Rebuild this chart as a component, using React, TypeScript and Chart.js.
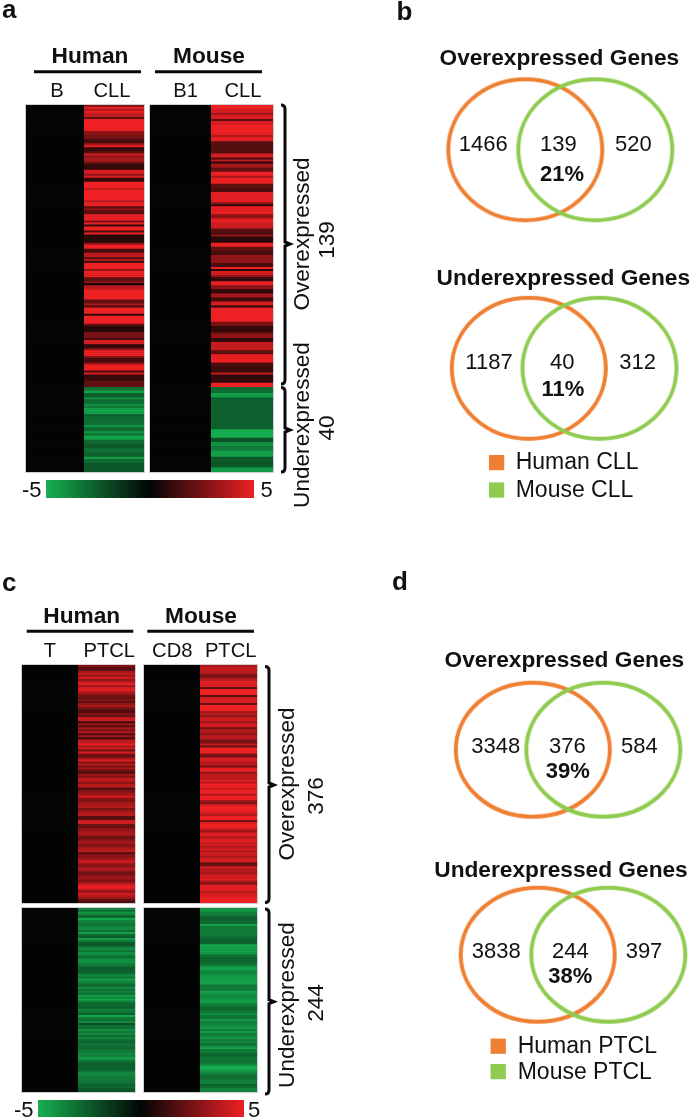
import React, { useEffect, useRef } from "react";
import { Chart, registerables } from "chart.js";

Chart.register(...registerables);

// ---------- DATA: heat values as [gene rows, log2 ratio] runs (panel a) ----------
const humanCLLOver: number[][] = [
  [1,2.5],[1,5],[1,3.5],[1,5],[2,4],[1,2],[6,5],[2,3],[2,2.5],[2,1.5],[1,3.5],[1,5],[2,1.2],[1,2],[1,4.5],[1,3],[2,3.5],[1,2.5],[3,1],[2,4.5],[1,3],[1,4.5],[2,1],[3,5],[1,4],[5,5],
  [1,4],[2,5],[1,2],[1,3],[2,2],[3,5],[1,2.5],[1,5],[1,1],[2,5],[1,1.5],[1,5],[4,0.8],[1,3],[2,5],[2,1.5],[2,4],[1,2],[1,3.5],[1,1.5],[3,5],[1,3],[3,5],[2,2],[1,3],[1,0.3],[2,4],[4,5],
  [1,5],[2,2],[1,3.5],[1,1.5],[3,5],[1,0.8],[4,5],[1,2],[3,0.8],[3,2.5],[1,1.5],[2,4.5],[2,1],[1,3],[3,5],[1,2.5],[2,1.5],[1,3],[3,5],[1,1.5],[1,4.5],[3,1.2],[3,2],
];
const mouseCLLOver: number[][] = [
  [2,5],[2,4.5],[1,3.5],[2,4.5],[1,2],[2,4.5],[5,5],[1,3.8],[2,5],[6,1.8],[2,4.5],[1,1.5],[1,4],[1,0.8],[2,3.5],[2,2],[2,5],[1,3.5],[3,5],[2,2],[2,1.6],[5,4.8],
  [1,3],[1,1],[4,5],[2,3],[2,4.8],[3,4.2],[2,1.8],[1,1.5],[1,3],[3,0.8],[2,5],[2,2],[2,1.5],[4,3],[2,1.5],[1,5],[1,0.8],[2,4.5],[1,3],[2,1],[2,5],[2,3],[2,1],[2,3.5],[1,1.2],
  [1,1.5],[2,4.5],[1,0.8],[7,5],[2,2.5],[3,1],[1,2.2],[2,3],[2,1],[4,4.2],[2,2],[4,5],[2,1.5],[3,1.2],[1,4],[4,1],[2,5],
];
const humanCLLUnder: number[][] = [
  [1,-2.5],[1,-3],[1,-4.5],[2,-2.2],[1,-3.5],[2,-2.5],[1,-3.8],[1,-3],[1,-4.2],[2,-4.5],[1,-2],[4,-2.6],[1,-4],[2,-2.6],[1,-4],[1,-2.5],[2,-4.5],[2,-2.4],[2,-2],[2,-2.6],[2,-2.2],[1,-4.2],[2,-2.5],[4,-1.9],
];
const mouseCLLUnder: number[][] = [
  [3,-2.5],[2,-4.4],[15,-2.2],[4,-4.8],[2,-1.8],[2,-3.8],[2,-3],[3,-4.4],[5,-1.9],[2,-4.2],
];

// ---------- DATA: panel c, one value per bin of neighbouring genes ----------
const humanPTCLOver = [
  2.8,1.8,1.8,3.4,4,3.2,4.4,3,4,4.8,3.4,4.4,4.8,3.8,3.2,2.2,2.2,2.8,2,3,3.6,2.6,1.8,1.8,2.8,2.2,4.4,4.4,1.4,3.4,2,3.4,2.8,3.8,1.8,3.4,1.6,4,4,4.8,3.4,4.4,2.2,4.6,2.6,2,3.4,4.6,2.6,3.8,2.6,3.4,2.2,1.6,3.4,2.6,4,4,2.8,
  3.8,3.8,1.6,2.6,3,3.4,4.4,2.8,2.6,3.4,3.6,3.8,2.6,3.2,3.8,3.8,1.8,1.8,4.4,4.4,2.2,2.2,3,3.4,3.8,3.4,2.2,2.6,3.4,3.6,2.6,3.4,
  4,4,1.8,3,3,3.4,4.4,3.4,2.6,3.4,3.8,2.8,2.2,2.8,3.4,3,2.6,3.8,4.6,5,3.8,3,4.4,3.8,3.4,2.2,1.6,
];
const mousePTCLOver = [
  3.5,4,4,4,3.5,2.2,3,4,4.6,4.6,4.6,2,5,5,5,1.8,4.4,4.4,4.4,2.2,5,5,5,3.5,4,3,4.5,4.5,3.4,4.6,4.6,2.4,3.8,3.8,3,4,4,2.4,2.6,4,2,5,5,5,2.6,2.4,4.5,4.5,3.8,3.8,2.4,4.8,4.8,3,4,4,3.8,4.6,4,
  5,5,4.2,5,5,3.8,5,5,3.4,2.6,4.2,5,5,5,4.4,3.8,5,5,2.4,4.6,5,5,4.2,3.4,4.5,5,3.8,4.5,5,4.2,4.6,3.8,
  4.6,3.8,4.6,4.2,3.8,4.6,4.2,2,2.2,4.5,3.6,3.8,3.4,4.6,4.2,4.8,3.4,2.6,4.6,4.8,4.8,3.8,4.4,4.5,5,5,5,
];
const humanPTCLUnder = [
  -3.5,-2.5,-4,-3,-2,-4.6,-3.4,-3,-2.8,-3.6,-3.6,-2.6,-4.4,-2.4,-2.2,-4.2,-3,-2,-2,-3.2,-3.8,-2.8,-4.2,-3.4,-2.6,-3.8,-4,-3.6,-3,-2,-2.2,-2,-2.6,-3.6,-2.8,-4.2,-3.6,-3,-2.2,-3.6,-2.6,-3.2,-2.6,-4.4,-3.4,-4.6,-3,-2.4,-2.4,-2.2,-3.2,-2.8,-2.2,-4.6,-3,-2.6,-3.6,-1.8,
  -2.6,-2.6,-3.8,-3,-3.4,-2.6,-3.6,-2.6,-2.4,-3,-2.8,-2.4,-3,-3.4,-3.6,-3.4,-4.2,-3,-2.4,-2.2,-2.2,-2.2,-2.4,-3.4,-3.6,-3.2,-3,-2.8,-2.8,-2.2,-2.4,-2,-1.8,
];
const mousePTCLUnder = [
  -4,-4,-3.2,-3.2,-2.2,-2.2,-2.4,-2.4,-4.4,-3,-3,-3.2,-3,-3,-2.6,-2.2,-2.2,-2.2,-4.8,-4.6,-4.4,-4.4,-4.2,-3,-2.6,-2.4,-2.4,-2.6,-3,-4.4,-4.4,-3.4,-3.4,-4,-4.2,-4.2,-4.4,-4.4,-2.8,-3,-3,-4.2,-4,-3.4,-3.6,-4,-4.4,-3.2,-3,-2.4,-2.4,-3,-3.6,-2.8,-3,-4,-3.2,-3.4,
  -3.6,-4,-3.2,-4,-3,-3.6,-4.2,-3.2,-3.6,-2.8,-3.6,-4.6,-3,-3,-2.4,-2.4,-3,-2.8,-2.8,-3.4,-4.6,-4.8,-4.2,-3.6,-3,-2.4,-2.6,-3,-3.4,-2.2,-2.4,-3.4,-3.4,
];

// ---------- DATA: Venn counts and labels ----------
const vennTitles = ["Overexpressed Genes", "Underexpressed Genes", "Overexpressed Genes", "Underexpressed Genes"];
const humanOnly = [1466, 1187, 3348, 3838];
const shared = [139, 40, 376, 244];
const mouseOnly = [520, 312, 584, 397];
const sharedPercent = ["21%", "11%", "39%", "38%"];
const legendHuman = ["Human CLL", "Human PTCL"];
const legendMouse = ["Mouse CLL", "Mouse PTCL"];
const colorbarTicks = ["-5", "5"];

// ---------- LAYOUT (page pixels) ----------
const runs = (r: number[][]) => r.flatMap(([n, v]) => Array.from({ length: n }, () => v));

const heatBlocks = [
  { values: runs(humanCLLOver), left: 26, right: 144, split: 84, top: 105, bottom: 387, clip: "inset(-1px -1px 0 -1px)" },
  { values: runs(mouseCLLOver), left: 150, right: 273, split: 211, top: 105, bottom: 387, clip: "inset(-1px -1px 0 -1px)" },
  { values: runs(humanCLLUnder), left: 26, right: 144, split: 84, top: 387, bottom: 472, clip: "inset(0 -1px -1px -1px)" },
  { values: runs(mouseCLLUnder), left: 150, right: 273, split: 211, top: 387, bottom: 472, clip: "inset(0 -1px -1px -1px)" },
  { values: humanPTCLOver, left: 22, right: 135, split: 78, top: 665, bottom: 903, clip: "none" },
  { values: mousePTCLOver, left: 144, right: 257, split: 200, top: 665, bottom: 903, clip: "none" },
  { values: humanPTCLUnder, left: 22, right: 135, split: 78, top: 908, bottom: 1092, clip: "none" },
  { values: mousePTCLUnder, left: 144, right: 257, split: 200, top: 908, bottom: 1092, clip: "none" },
];
const colorBars = [
  { left: 46, right: 254, top: 480, bottom: 498 },
  { left: 38, right: 244, top: 1100, bottom: 1117 },
];
const vennLayout = [
  { hx: 525.3, mx: 595.3, y: 149.8, ry: 70.5, titleX: 559.3, titleY: 65, hc: 483.3, sc: 558.3, mc: 633.3, cy: 151, px: 562, py: 181 },
  { hx: 528.8, mx: 599.5, y: 368.3, ry: 70.5, titleX: 563.3, titleY: 285, hc: 489, sc: 562.3, mc: 637.7, cy: 369.3, px: 563, py: 396 },
  { hx: 532.8, mx: 603.3, y: 749.7, ry: 67, titleX: 564.3, titleY: 667.3, hc: 495.7, sc: 567.3, mc: 639.3, cy: 752.7, px: 567.7, py: 778.3 },
  { hx: 537.7, mx: 608.3, y: 954.7, ry: 67, titleX: 561, titleY: 876.7, hc: 496.3, sc: 570.3, mc: 644, cy: 957.7, px: 570.3, py: 983.3 },
];
const legendLayout = [
  { sx: 496.6, tx: 515.7, y1: 462.6, y2: 490, b1: 469.3, b2: 496.7 },
  { sx: 498.2, tx: 517.7, y1: 1046.2, y2: 1071.6, b1: 1053.3, b2: 1079 },
];
const INK = "#111";
const FONT = '"Liberation Sans", Arial, sans-serif';
const BOLD_H = `bold 22.7px ${FONT}`;
const REG_S = `20.2px ${FONT}`;
const REG_N = `22px ${FONT}`;
const BOLD_N = `bold 22px ${FONT}`;
const ROT = `22.6px ${FONT}`;
const LETTER = `bold 26px ${FONT}`;
const LEG = `23px ${FONT}`;

type Txt = { t: string; x: number; y: number; f: string; a?: CanvasTextAlign; rot?: boolean };
const texts: Txt[] = [
  { t: "a", x: 2, y: 18, f: LETTER, a: "left" },
  { t: "b", x: 396.5, y: 20, f: LETTER, a: "left" },
  { t: "c", x: 2, y: 591, f: LETTER, a: "left" },
  { t: "d", x: 392, y: 590, f: LETTER, a: "left" },
  { t: "Human", x: 90, y: 63, f: BOLD_H },
  { t: "Mouse", x: 209, y: 63, f: BOLD_H },
  { t: "B", x: 57, y: 96.7, f: REG_S },
  { t: "CLL", x: 112, y: 96.7, f: REG_S },
  { t: "B1", x: 185.7, y: 96.7, f: REG_S },
  { t: "CLL", x: 243, y: 96.7, f: REG_S },
  { t: "Human", x: 81.7, y: 622.7, f: BOLD_H },
  { t: "Mouse", x: 201, y: 622.7, f: BOLD_H },
  { t: "T", x: 50, y: 657, f: REG_S },
  { t: "PTCL", x: 109.3, y: 657, f: REG_S },
  { t: "CD8", x: 172.3, y: 657, f: REG_S },
  { t: "PTCL", x: 230.7, y: 657, f: REG_S },
  { t: "Overexpressed", x: 303, y: 234, f: ROT, rot: true },
  { t: String(shared[0]), x: 328, y: 240, f: ROT, rot: true },
  { t: "Underexpressed", x: 303, y: 425, f: ROT, rot: true },
  { t: String(shared[1]), x: 328, y: 428, f: ROT, rot: true },
  { t: "Overexpressed", x: 288, y: 784, f: ROT, rot: true },
  { t: String(shared[2]), x: 316.7, y: 796, f: ROT, rot: true },
  { t: "Underexpressed", x: 288, y: 1005, f: ROT, rot: true },
  { t: String(shared[3]), x: 316.7, y: 1003, f: ROT, rot: true },
  { t: colorbarTicks[0], x: 41.5, y: 497, f: REG_N, a: "right" },
  { t: colorbarTicks[1], x: 266.7, y: 497, f: REG_N },
  { t: colorbarTicks[0], x: 33.5, y: 1116.5, f: REG_N, a: "right" },
  { t: colorbarTicks[1], x: 254, y: 1116.5, f: REG_N },
  ...vennLayout.flatMap((v, i): Txt[] => [
    { t: vennTitles[i], x: v.titleX, y: v.titleY, f: BOLD_H },
    { t: String(humanOnly[i]), x: v.hc, y: v.cy, f: REG_N },
    { t: String(shared[i]), x: v.sc, y: v.cy, f: REG_N },
    { t: String(mouseOnly[i]), x: v.mc, y: v.cy, f: REG_N },
    { t: sharedPercent[i], x: v.px, y: v.py, f: BOLD_N },
  ]),
  ...legendLayout.flatMap((l, i): Txt[] => [
    { t: legendHuman[i], x: l.tx, y: l.b1, f: LEG, a: "left" },
    { t: legendMouse[i], x: l.tx, y: l.b2, f: LEG, a: "left" },
  ]),
];

const rules = [
  [34, 141, 71.7], [155, 262, 71.7],
  [26.7, 133.3, 631.3], [147.3, 254, 631.3],
];
// hook x, spine x, tick tip x, top, middle, bottom
const braces = [
  [281, 285, 290, 105, 244, 384],
  [281, 285, 290, 387.5, 430, 472],
  [265, 269, 274, 666.5, 785, 902.5],
  [265, 269, 274, 909, 1001.7, 1094],
];

const GREEN_END = [22, 176, 80];
const RED_END = [237, 32, 36];
const ZERO = [3, 5, 5];
const ORANGE = "#EF7F32";
const LIME = "#8FCB50";

function heatColor(v: number) {
  const t = Math.min(1, Math.abs(v) / 5);
  const end = v < 0 ? GREEN_END : RED_END;
  const k = v < 0 ? Math.pow(t, 0.75) : t;
  const c = ZERO.map((z, i) => Math.round(z + (end[i] - z) * k));
  return `rgb(${c[0]},${c[1]},${c[2]})`;
}

function ellipseImage(rx: number, ry: number, color: string) {
  const lw = 4;
  const c = document.createElement("canvas");
  c.width = Math.ceil(2 * (rx + lw));
  c.height = Math.ceil(2 * (ry + lw));
  const g = c.getContext("2d")!;
  g.strokeStyle = color;
  g.lineWidth = lw;
  g.beginPath();
  g.ellipse(c.width / 2, c.height / 2, rx, ry, 0, 0, Math.PI * 2);
  g.stroke();
  return c;
}

const annotate = {
  id: "annotate",
  afterDatasetsDraw(chart: any) {
    const { ctx } = chart;
    const X = (v: number) => chart.scales.x.getPixelForValue(v);
    const Y = (v: number) => chart.scales.y.getPixelForValue(v);
    ctx.save();
    ctx.strokeStyle = "#0a0a0a";
    ctx.lineWidth = 3;
    rules.forEach(([a, b, y]) => {
      ctx.beginPath();
      ctx.moveTo(X(a), Y(y));
      ctx.lineTo(X(b), Y(y));
      ctx.stroke();
    });
    ctx.lineWidth = 3;
    braces.forEach(([h, s, tip, top, mid, bot]) => {
      ctx.beginPath();
      ctx.moveTo(X(h), Y(top));
      ctx.quadraticCurveTo(X(s), Y(top), X(s), Y(top + 4));
      ctx.lineTo(X(s), Y(mid - 2));
      ctx.lineTo(X(tip), Y(mid));
      ctx.lineTo(X(s), Y(mid + 2));
      ctx.lineTo(X(s), Y(bot - 4));
      ctx.quadraticCurveTo(X(s), Y(bot), X(h), Y(bot));
      ctx.stroke();
    });
    ctx.fillStyle = INK;
    texts.forEach((d) => {
      ctx.font = d.f;
      ctx.textAlign = d.a ?? "center";
      if (d.rot) {
        ctx.save();
        ctx.translate(X(d.x), Y(d.y));
        ctx.rotate(-Math.PI / 2);
        ctx.textBaseline = "middle";
        ctx.fillText(d.t, 0, 0);
        ctx.restore();
      } else {
        ctx.textBaseline = "alphabetic";
        ctx.fillText(d.t, X(d.x), Y(d.y));
      }
    });
    ctx.restore();
  },
};

const bare = {
  responsive: false,
  animation: false as const,
  layout: { padding: 0, autoPadding: false },
  plugins: { legend: { display: false }, tooltip: { enabled: false } },
  events: [] as string[],
};

export default function App() {
  const heatRefs = useRef<(HTMLCanvasElement | null)[]>([]);
  const barRefs = useRef<(HTMLCanvasElement | null)[]>([]);
  const overlayRef = useRef<HTMLCanvasElement | null>(null);

  useEffect(() => {
    const charts: Chart[] = [];

    heatBlocks.forEach((b, i) => {
      const frac = (b.split - b.left) / (b.right - b.left);
      charts.push(
        new Chart(heatRefs.current[i]!, {
          type: "bar",
          data: {
            labels: b.values.map((_, r) => String(r + 1)),
            datasets: [
              { label: "Normal", data: b.values.map(() => [0, frac]), backgroundColor: b.values.map(() => heatColor(0)) },
              { label: "Tumour", data: b.values.map(() => [frac, 1]), backgroundColor: b.values.map(heatColor) },
            ],
          } as any,
          options: {
            ...bare,
            indexAxis: "y",
            datasets: { bar: { grouped: false, barPercentage: 1.25, categoryPercentage: 1, borderWidth: 0 } },
            scales: {
              x: { type: "linear", min: 0, max: 1, display: false },
              y: { type: "category", display: false },
            },
          } as any,
        })
      );
    });

    colorBars.forEach((_, i) => {
      charts.push(
        new Chart(barRefs.current[i]!, {
          type: "bar",
          data: {
            labels: ["log2 ratio"],
            datasets: [
              {
                data: [[-5, 5]],
                backgroundColor: (c: any) => {
                  const { chart } = c;
                  const sx = chart.scales.x;
                  const a = sx ? sx.getPixelForValue(-5) : NaN;
                  const b = sx ? sx.getPixelForValue(5) : NaN;
                  if (!Number.isFinite(a) || !Number.isFinite(b)) return "#000";
                  const g = chart.ctx.createLinearGradient(a, 0, b, 0);
                  g.addColorStop(0, heatColor(-5));
                  g.addColorStop(0.25, "rgb(12,90,42)");
                  g.addColorStop(0.5, heatColor(0));
                  g.addColorStop(0.75, "rgb(120,18,20)");
                  g.addColorStop(1, heatColor(5));
                  return g;
                },
              },
            ],
          } as any,
          options: {
            ...bare,
            indexAxis: "y",
            datasets: { bar: { barPercentage: 1, categoryPercentage: 1, borderWidth: 0 } },
            scales: {
              x: { type: "linear", min: -5, max: 5, display: false },
              y: { type: "category", display: false },
            },
          } as any,
        })
      );
    });

    charts.push(
      new Chart(overlayRef.current!, {
        type: "scatter",
        data: {
          datasets: [
            {
              label: "Mouse",
              data: [
                ...vennLayout.map((v) => ({ x: v.mx, y: v.y })),
                ...legendLayout.map((l) => ({ x: l.sx, y: l.y2 })),
              ],
              pointStyle: [
                ...vennLayout.map((v) => ellipseImage(77, v.ry, LIME)),
                ...legendLayout.map(() => "rect"),
              ],
              pointRadius: 10.8,
              pointBorderWidth: 0,
              pointBackgroundColor: LIME,
              showLine: false,
            },
            {
              label: "Human",
              data: [
                ...vennLayout.map((v) => ({ x: v.hx, y: v.y })),
                ...legendLayout.map((l) => ({ x: l.sx, y: l.y1 })),
              ],
              pointStyle: [
                ...vennLayout.map((v) => ellipseImage(77, v.ry, ORANGE)),
                ...legendLayout.map(() => "rect"),
              ],
              pointRadius: 10.8,
              pointBorderWidth: 0,
              pointBackgroundColor: ORANGE,
              showLine: false,
            },
          ],
        } as any,
        options: {
          ...bare,
          scales: {
            x: { type: "linear", min: 0, max: 700, display: false },
            y: { type: "linear", min: 0, max: 1120, reverse: true, display: false },
          },
        } as any,
        plugins: [annotate],
      })
    );

    return () => charts.forEach((c) => c.destroy());
  }, []);

  const blockStyle = (b: { left: number; top: number; clip: string }) => ({
    position: "absolute" as const,
    left: b.left,
    top: b.top,
    display: "block",
    background: "rgb(3,5,5)",
    boxShadow: "0 0 0 1px rgba(170,170,170,0.55)",
    clipPath: b.clip,
  });

  return (
    <div style={{ position: "absolute", left: 0, top: 0, width: 700, height: 1120, overflow: "hidden", background: "#fff" }}>
      {heatBlocks.map((b, i) => (
        <canvas
          key={i}
          ref={(el) => {
            heatRefs.current[i] = el;
          }}
          width={b.right - b.left}
          height={b.bottom - b.top}
          style={blockStyle(b)}
        />
      ))}
      {colorBars.map((b, i) => (
        <canvas
          key={i}
          ref={(el) => {
            barRefs.current[i] = el;
          }}
          width={b.right - b.left}
          height={b.bottom - b.top}
          style={{ position: "absolute", left: b.left, top: b.top, display: "block" }}
        />
      ))}
      <canvas
        ref={overlayRef}
        width={700}
        height={1120}
        style={{ position: "absolute", left: 0, top: 0, display: "block", pointerEvents: "none" }}
      />
    </div>
  );
}
